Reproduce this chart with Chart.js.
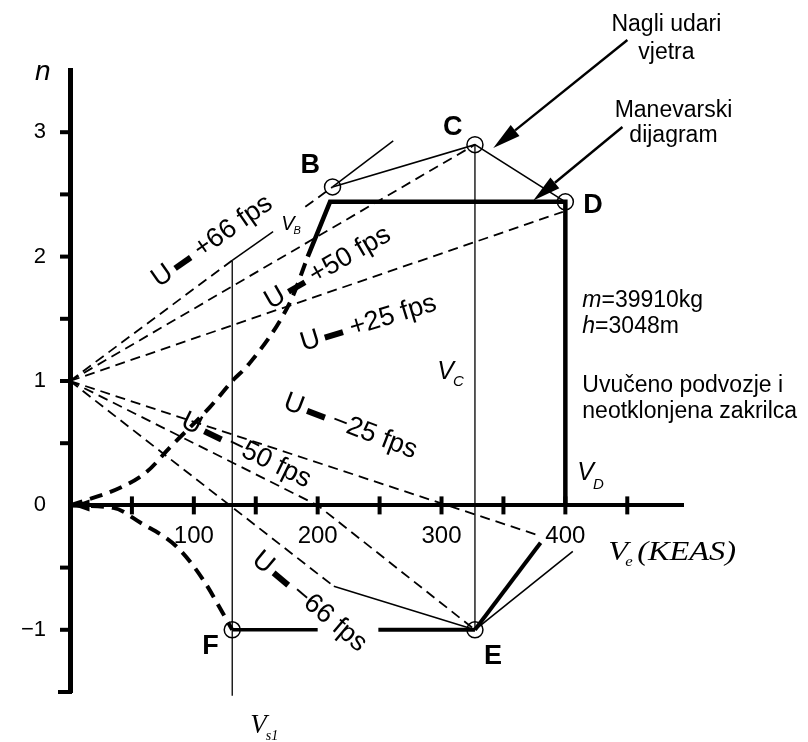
<!DOCTYPE html>
<html><head><meta charset="utf-8">
<script src="https://cdn.jsdelivr.net/npm/chart.js@4.4.1/dist/chart.umd.min.js"></script>
<style>html,body{margin:0;padding:0;background:#fff;} canvas{display:block;}</style>
</head><body>
<canvas id="c" width="808" height="742"></canvas>
<script>
// ---------- data (V in KEAS, n load factor) ----------
const xTickMarks = [50, 100, 150, 200, 250, 300, 350, 400, 450];
const yTickMarks = [-1, -0.5, 0.5, 1, 1.5, 2, 2.5, 3];

const stallPosV = [0, 40, 62, 81, 113, 132, 144, 178, 192];
const stallPosN = [0, 0.14, 0.27, 0.47, 0.79, 1.01, 1.13, 1.64, 2.0];
const stallNegV = [0, 35, 57, 86, 107, 131];
const stallNegN = [0, -0.02, -0.14, -0.33, -0.59, -1.0];
const manV = [192, 210, 400, 400];
const manN = [2.0, 2.44, 2.44, 0];
const negLimitAV = [131, 200], negLimitAN = [-1, -1];
const negLimitBV = [249, 327], negLimitBN = [-1, -1];
const eThickV = [327, 380], eThickN = [-1, -0.30];
const eThinV = [327, 406], eThinN = [-1, -0.37];

const gP66aV = [0, 131], gP66aN = [1, 1.97];
const gP66bV = [131, 164], gP66bN = [1.97, 2.2];
const gP66cV = [190, 212], gP66cN = [2.4, 2.56];
const gP66dV = [212, 261], gP66dN = [2.56, 2.93];
const gP50V = [0, 327], gP50N = [1, 2.9];
const gP25V = [0, 398], gP25N = [1, 2.36];
const gM25V = [0, 378], gM25N = [1, -0.24];
const gM50V = [0, 200, 327], gM50N = [1, 0, -1];
const gM66aV = [0, 213], gM66aN = [1, -0.65];
const gM66bV = [213, 327], gM66bN = [-0.65, -1];
const bcdV = [212, 327, 400], bcdN = [2.56, 2.9, 2.44];
const vcV = [327, 327], vcN = [2.9, -1];
const vs1V = [131, 131], vs1N = [1.97, -1.53];

const pointNames = ['B', 'C', 'D', 'E', 'F'];
const pointV = [212, 327, 400, 327, 131];
const pointN = [2.56, 2.9, 2.44, -1, -1];

const gustTexts = ['+66 fps', '+50 fps', '+25 fps', '\u221225 fps', '\u221250 fps', '\u221266 fps'];

// ---------- styling ----------
const SANS = '"Liberation Sans", Arial, sans-serif';
const SERIF = '"Liberation Serif", "Times New Roman", serif';
const toPts = (V, N) => V.map((v, i) => ({x: v, y: N[i]}));
const ln = (V, N, o) => Object.assign({data: toPts(V, N), showLine: true, pointRadius: 0, borderColor: '#000',
  backgroundColor: '#000', borderWidth: 1.5, fill: false, clip: false, tension: 0}, o || {});
const DASH = [10, 6];
const DW = 1.8;

const datasets = [
  ln(stallPosV, stallPosN, {borderWidth: 4, borderDash: [13, 8], cubicInterpolationMode: 'monotone'}),
  ln(stallNegV, stallNegN, {borderWidth: 4, borderDash: [13, 8], cubicInterpolationMode: 'monotone'}),
  ln(manV, manN, {borderWidth: 4.5}),
  ln(negLimitAV, negLimitAN, {borderWidth: 3.5}),
  ln(negLimitBV, negLimitBN, {borderWidth: 4}),
  ln(eThickV, eThickN, {borderWidth: 4}),
  ln(eThinV, eThinN, {borderWidth: 1.6}),
  ln(gP66aV, gP66aN, {borderDash: DASH, borderWidth: DW}),
  ln(gP66bV, gP66bN, {}),
  ln(gP66cV, gP66cN, {borderDash: DASH, borderWidth: DW}),
  ln(gP66dV, gP66dN, {}),
  ln(gP50V, gP50N, {borderDash: DASH, borderWidth: DW}),
  ln(gP25V, gP25N, {borderDash: DASH, borderWidth: DW}),
  ln(gM25V, gM25N, {borderDash: DASH, borderWidth: DW}),
  ln(gM50V, gM50N, {borderDash: DASH, borderWidth: DW}),
  ln(gM66aV, gM66aN, {borderDash: DASH, borderWidth: DW}),
  ln(gM66bV, gM66bN, {}),
  ln(bcdV, bcdN, {borderWidth: 1.6}),
  ln(vcV, vcN, {borderWidth: 1.3}),
  ln(vs1V, vs1N, {borderWidth: 1.3}),
  {data: toPts(pointV, pointN), showLine: false, pointRadius: 8, pointBorderWidth: 1.5,
   pointBorderColor: '#000', pointBackgroundColor: 'rgba(0,0,0,0)', clip: false}
];

function arrow(ctx, x1, y1, x2, y2, lw, hl, hw) {
  const a = Math.atan2(y2 - y1, x2 - x1);
  const bx = x2 - hl * Math.cos(a), by = y2 - hl * Math.sin(a);
  if (lw > 0) { ctx.lineWidth = lw; ctx.beginPath(); ctx.moveTo(x1, y1); ctx.lineTo(bx, by); ctx.stroke(); }
  ctx.beginPath(); ctx.moveTo(x2, y2);
  ctx.lineTo(bx + hw * Math.sin(a), by - hw * Math.cos(a));
  ctx.lineTo(bx - hw * Math.sin(a), by + hw * Math.cos(a));
  ctx.closePath(); ctx.fill();
}

const annot = {
  id: 'annot',
  afterDatasetsDraw(chart) {
    const ctx = chart.ctx, xs = chart.scales.x, ys = chart.scales.y;
    const px = v => xs.getPixelForValue(v), py = n => ys.getPixelForValue(n);
    ctx.save();
    ctx.fillStyle = '#000'; ctx.strokeStyle = '#000'; ctx.setLineDash([]);
    // tick marks
    const x0 = px(0), y0 = py(0);
    ctx.lineWidth = 4;
    xTickMarks.forEach(v => { ctx.beginPath(); ctx.moveTo(px(v), y0 - 9); ctx.lineTo(px(v), y0 + 9); ctx.stroke(); });
    yTickMarks.forEach(n => { ctx.beginPath(); ctx.moveTo(x0 - 10, py(n)); ctx.lineTo(x0, py(n)); ctx.stroke(); });
    ctx.beginPath(); ctx.moveTo(x0 - 12, py(-1.5)); ctx.lineTo(x0 + 2, py(-1.5)); ctx.stroke();
    // stall-curve arrowhead at origin
    arrow(ctx, px(20), y0, px(2), y0, 0, 17, 6);

    const T = (s, x, y, font, align) => { ctx.font = font; ctx.textAlign = align || 'left'; ctx.textBaseline = 'alphabetic'; ctx.fillText(s, x, y); };
    const sub = (main, s, x, y, f1, f2, dy, sx) => {
      ctx.save(); ctx.translate(x, y); ctx.scale(sx || 1, 1);
      ctx.font = f1; ctx.textAlign = 'left'; ctx.textBaseline = 'alphabetic';
      ctx.fillText(main, 0, 0); const w = ctx.measureText(main).width;
      ctx.font = f2; ctx.fillText(s, w - 1, dy);
      ctx.restore();
      return w;
    };

    // axis title n
    T('n', px(-28.3), py(3.42), 'italic 28px ' + SANS);
    // axis title V_e (KEAS)
    ctx.save(); ctx.translate(px(434.7), py(-0.437)); ctx.scale(1.2, 1);
    ctx.font = 'italic 27px ' + SERIF; ctx.textAlign = 'left'; ctx.textBaseline = 'alphabetic';
    ctx.fillText('V', 0, 0);
    ctx.font = 'italic 14px ' + SERIF; ctx.fillText('e', 14, 6);
    ctx.font = 'italic 27px ' + SERIF; ctx.fillText('(KEAS)', 24, 0);
    ctx.restore();

    // point letters
    const offs = [[-32, -14], [-32, -10], [18, 11], [9, 34], [-30, 24]];
    pointNames.forEach((s, i) => T(s, px(pointV[i]) + offs[i][0], py(pointN[i]) + offs[i][1], 'bold 27px ' + SANS));

    // V labels
    sub('V', 'B', px(170.5), py(2.214), 'italic 20px ' + SANS, 'italic 11px ' + SANS, 4);
    sub('V', 'C', px(296.6), py(1.02), 'italic 25px ' + SANS, 'italic 15px ' + SANS, 7);
    sub('V', 'D', px(409.7), py(0.204), 'italic 25px ' + SANS, 'italic 15px ' + SANS, 9);
    sub('V', 's1', px(145.5), py(-1.829), 'italic 27px ' + SERIF, 'italic 14px ' + SERIF, 7);

    // annotations top right
    T('Nagli udari', px(481.6), py(3.81), '23px ' + SANS, 'center');
    T('vjetra', px(481.6), py(3.59), '23px ' + SANS, 'center');
    T('Manevarski', px(487.3), py(3.12), '23px ' + SANS, 'center');
    T('dijagram', px(487.3), py(2.92), '23px ' + SANS, 'center');
    arrow(ctx, px(450.1), py(3.741), px(341.8), py(2.873), 2.4, 28, 7);
    arrow(ctx, px(446.1), py(3.042), px(374.1), py(2.45), 2.4, 28, 7);

    // info block
    const ix = px(413.7);
    ctx.font = 'italic 23px ' + SANS; let w = ctx.measureText('m').width;
    T('m', ix, py(1.595), 'italic 23px ' + SANS); T('=39910kg', ix + w, py(1.595), '23px ' + SANS);
    ctx.font = 'italic 23px ' + SANS; w = ctx.measureText('h').width;
    T('h', ix, py(1.386), 'italic 23px ' + SANS); T('=3048m', ix + w, py(1.386), '23px ' + SANS);
    T('Uvu\u010deno podvozje i', ix, py(0.912), '23px ' + SANS);
    T('neotklonjena zakrilca', ix, py(0.703), '23px ' + SANS);

    // gust labels
    const gustPos = [[68.2, 1.799, -35], [158.9, 1.626, -30], [186.6, 1.299, -17], [173.3, 0.838, 21], [91.1, 0.690, 26], [149.8, -0.410, 40]];
    gustTexts.forEach((s, i) => {
      const [gv, gn, ang] = gustPos[i];
      ctx.save(); ctx.translate(px(gv), py(gn)); ctx.rotate(ang * Math.PI / 180);
      ctx.font = '27px ' + SANS; ctx.textAlign = 'left'; ctx.textBaseline = 'middle';
      ctx.fillText('U', 0, 0);
      const uw = ctx.measureText('U').width;
      ctx.fillRect(uw + 5, -2, 19, 6);
      ctx.fillText(s, uw + 5 + 19 + 8, 0);
      ctx.restore();
    });
    ctx.restore();
  }
};

new Chart(document.getElementById('c'), {
  type: 'scatter',
  data: {datasets},
  options: {
    responsive: false, animation: false, devicePixelRatio: 1,
    layout: {padding: {left: 0, right: 125, top: 70, bottom: 50}},
    plugins: {legend: {display: false}, tooltip: {enabled: false}},
    scales: {
      x: {type: 'linear', min: 0, max: 495, position: {y: 0},
        grid: {display: false, drawTicks: false},
        border: {display: true, width: 4, color: '#000'},
        ticks: {stepSize: 50, autoSkip: false, maxRotation: 0, padding: 17, color: '#000',
          font: {family: SANS, size: 24},
          callback: v => (v > 0 && v % 100 === 0) ? String(v) : ''}},
      y: {type: 'linear', min: -1.5, max: 3.5, position: 'left',
        afterFit: s => { s.width = 70; },
        grid: {display: false, drawTicks: false},
        border: {display: true, width: 5, color: '#000'},
        ticks: {stepSize: 0.5, autoSkip: false, padding: 24, color: '#000',
          font: {family: SANS, size: 22},
          callback: v => (Number.isInteger(v) && v > -1.5 && v < 3.5) ? (v < 0 ? '\u2212' + (-v) : String(v)) : ''}}
    }
  },
  plugins: [annot]
});
</script></body></html>
